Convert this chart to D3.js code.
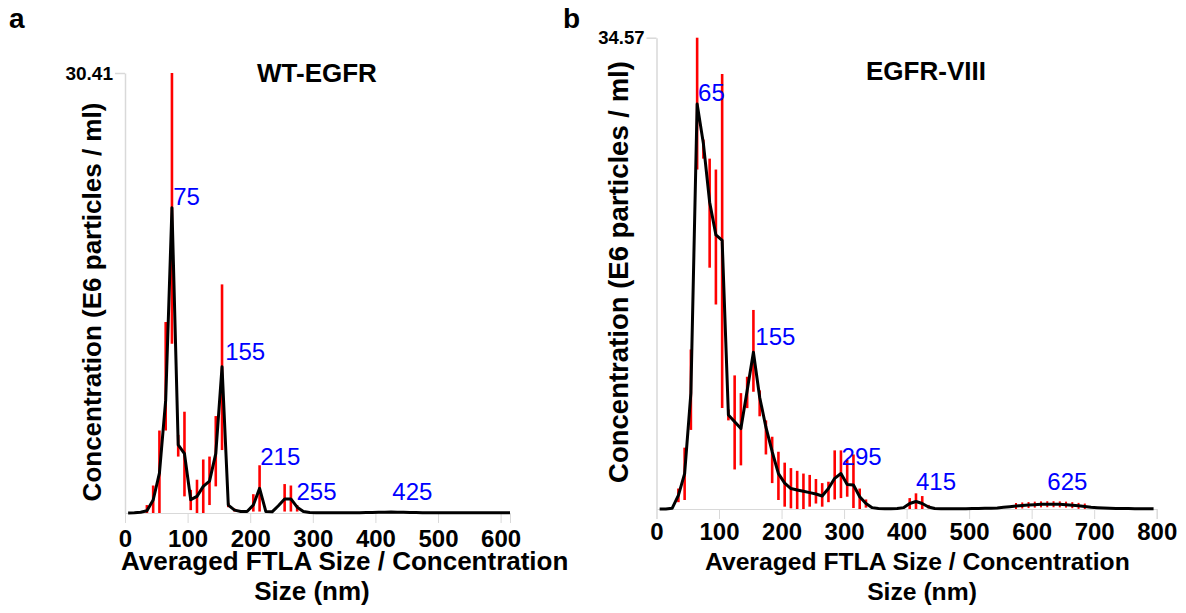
<!DOCTYPE html>
<html>
<head>
<meta charset="utf-8">
<script src="https://cdn.jsdelivr.net/npm/d3@7"></script>
<style>
  body { margin: 0; background: #fff; }
  text { font-family: "Liberation Sans", Arial, sans-serif; }
</style>
</head>
<body>
<script>
// WT-EGFR: averaged size distribution (bins every 10 nm, 5..615)
var wtMean = [0, 0.02, 0.05, 0.15, 0.9, 2.75, 7.8, 21.1, 4.7, 4.1,
  0.92, 1.15, 1.84, 2.2, 4.1, 10.1, 0.55, 0.2, 0.1, 0.1,
  0.55, 1.7, 0.1, 0.08, 0.5, 0.97, 0.97, 0.4, 0.1, 0.03,
  0.02, 0.02, 0.02, 0.02, 0.02, 0.02, 0.02, 0.02, 0.03, 0.04,
  0.05, 0.06, 0.07, 0.06, 0.05, 0.04, 0.03, 0.02, 0.02, 0.02,
  0.02, 0.02, 0.02, 0.02, 0.02, 0.02, 0.02, 0.02, 0.02, 0.02,
  0.02, 0.02];
// red error bars (size, low, high)
var wtBarSize = [35, 45, 55, 65, 75, 85, 95, 105, 115, 125, 135, 145, 155, 165, 175, 185, 205, 215, 255, 265, 275];
var wtBarLow  = [0, 0, 0, 5.7, 11.7, 3.9, 1.15, 0.2, 0, 0, 0.55, 1.84, 4.35, 0.4, 0.1, 0.05, 0.1, 0.1, 0.1, 0.1, 0.1];
var wtBarHigh = [0.55, 1.9, 5.7, 13.2, 30.41, 5.4, 7.0, 1.6, 2.3, 3.7, 3.9, 6.7, 15.8, 0.7, 0.3, 0.2, 1.3, 3.3, 2.0, 1.9, 0.55];
var wtPeaks = ["75", "155", "215", "255", "425"];
var wtPeakX = [77, 160, 216, 274, 427];
var wtPeakY = [21.3, 10.6, 3.3, 0.9, 0.9];
var wtTicks = [0, 100, 200, 300, 400, 500, 600];

// EGFR-VIII (bins every 10 nm, 5..795)
var vMean = [0, 0, 0.05, 1.0, 2.6, 8.5, 29.7, 26.8, 22.5, 20.1,
  19.7, 6.9, 6.4, 5.9, 8.7, 11.5, 8.2, 6.0, 4.2, 2.6,
  1.9, 1.5, 1.4, 1.3, 1.2, 1.1, 0.95, 1.5, 2.25, 2.6,
  1.8, 1.76, 0.9, 0.4, 0.1, 0.03, 0.02, 0.02, 0.03, 0.1,
  0.4, 0.55, 0.4, 0.15, 0.04, 0.02, 0.02, 0.02, 0.02, 0.02,
  0.03, 0.04, 0.05, 0.06, 0.08, 0.12, 0.17, 0.22, 0.26, 0.29,
  0.32, 0.34, 0.35, 0.35, 0.34, 0.32, 0.28, 0.23, 0.18, 0.13,
  0.1, 0.07, 0.05, 0.04, 0.03, 0.03, 0.02, 0.02, 0.02, 0.02];
var vBarSize = [35, 45, 55, 65, 75, 85, 95, 105, 115, 125, 135, 145, 155, 165, 175, 185, 195, 205, 215, 225,
  235, 245, 255, 265, 275, 285, 295, 305, 315, 325, 335, 405, 415, 425, 435,
  575, 585, 595, 605, 615, 625, 635, 645, 655, 665, 675, 685];
var vBarLow  = [0.5, 0.66, 5.8, 24.9, 25.7, 17.7, 15.0, 7.4, 6.5, 2.9, 3.2, 7.4, 8.6, 6.8, 4.0, 1.9, 0.66, 0.17, 0.05, 0,
  0, 0.17, 0.4, 0.17, 0.5, 0.7, 0.8, 0.9, 0.07, 0, 0.1, 0, 0, 0, 0.05,
  0, 0.04, 0.07, 0.1, 0.12, 0.13, 0.13, 0.12, 0.1, 0.06, 0.01, 0];
var vBarHigh = [1.5, 4.5, 11.7, 34.57, 27.1, 25.7, 24.9, 31.9, 7.3, 9.8, 8.5, 9.7, 14.6, 8.7, 6.5, 5.3, 4.2, 3.4, 3.0, 2.8,
  2.6, 2.5, 2.2, 1.9, 2.0, 4.3, 4.3, 3.6, 4.0, 1.5, 0.7, 0.8, 1.15, 0.95, 0.3,
  0.44, 0.48, 0.51, 0.54, 0.56, 0.57, 0.57, 0.56, 0.54, 0.5, 0.45, 0.4];
var vPeaks = ["65", "155", "295", "415", "625"];
var vPeakX = [66.5, 158, 296, 415, 625];
var vPeakY = [29.96, 12.0, 3.23, 1.39, 1.39];
var vTicks = [0, 100, 200, 300, 400, 500, 600, 700, 800];

var svg = d3.select("body")
  .append("svg")
  .attr("width", 1186)
  .attr("height", 613);

function drawPanel(p) {
  var x = d3.scaleLinear().domain([0, p.xMax]).range([p.x0, p.x1]);
  var y = d3.scaleLinear().domain([0, p.yMax]).range([p.y0, p.y1]);
  var g = svg.append("g");

  // x axis (light grey ticks)
  var xa = g.append("g")
    .attr("transform", "translate(0," + p.y0 + ")")
    .call(d3.axisBottom(x).tickValues(p.ticks).tickSize(10).tickFormat(d3.format("d")));
  xa.selectAll("path, line").attr("stroke", "#d9d9d9");
  xa.selectAll("text")
    .attr("dy", null)
    .attr("y", p.tickY)
    .attr("fill", "#000")
    .attr("font-size", "24px")
    .attr("font-weight", "bold")
    .attr("font-family", "Liberation Sans, Arial, sans-serif");

  // y axis, only the max tick
  var ya = g.append("g")
    .attr("transform", "translate(" + p.x0 + ",0)")
    .call(d3.axisLeft(y).tickValues([p.yMax]).tickSize(10).tickPadding(2).tickSizeOuter(0)
      .tickFormat(function(d) { return d.toFixed(2); }));
  ya.selectAll("path, line").attr("stroke", "#d9d9d9").attr("stroke-width", 1.5);
  ya.selectAll("text")
    .attr("fill", "#000")
    .attr("font-size", p.yTickSize + "px")
    .attr("font-weight", "bold")
    .attr("font-family", "Liberation Sans, Arial, sans-serif");

  // red error bars
  g.selectAll("line.err")
    .data(p.barSize)
    .enter()
    .append("line")
    .attr("class", "err")
    .attr("x1", function(d) { return x(d); })
    .attr("x2", function(d) { return x(d); })
    .attr("y1", function(d, i) { return y(p.barLow[i]); })
    .attr("y2", function(d, i) { return y(p.barHigh[i]); })
    .attr("stroke", "#ff0000")
    .attr("stroke-width", function(d) { return d > 500 ? 2 : 2.6; });

  // mean curve
  var sizes = d3.range(5, p.xMax + 1, 10);
  var line = d3.line()
    .x(function(d, i) { return x(sizes[i]); })
    .y(function(d) { return y(d); });
  g.append("path")
    .datum(p.mean)
    .attr("d", line)
    .attr("fill", "none")
    .attr("stroke", "#000")
    .attr("stroke-width", 3)
    .attr("stroke-linejoin", "round");

  // peak labels
  g.selectAll("text.peak")
    .data(p.peaks)
    .enter()
    .append("text")
    .attr("class", "peak")
    .text(function(d) { return d; })
    .attr("x", function(d, i) { return x(p.peakX[i]); })
    .attr("y", function(d, i) { return y(p.peakY[i]); })
    .attr("fill", "#0000ff")
    .attr("font-size", "24px");

  // titles
  g.append("text")
    .text(p.title)
    .attr("x", p.titleX)
    .attr("y", p.titleY)
    .attr("font-size", "26px")
    .attr("font-weight", "bold");
  g.append("text")
    .text(p.letter)
    .attr("x", p.letterX)
    .attr("y", 28)
    .attr("font-size", "28px")
    .attr("font-weight", "bold");

  g.append("text")
    .text("Concentration (E6 particles / ml)")
    .attr("transform", "translate(" + p.yLabX + "," + p.yLabY + ") rotate(-90)")
    .attr("text-anchor", "middle")
    .attr("font-size", p.yLabSize + "px")
    .attr("font-weight", "bold");

  g.append("text")
    .text("Averaged FTLA Size / Concentration")
    .attr("x", p.xLabX)
    .attr("y", p.xLabY)
    .attr("font-size", p.xLabSize + "px")
    .attr("font-weight", "bold");
  g.append("text")
    .text("Size (nm)")
    .attr("x", p.sizeX)
    .attr("y", p.xLabY + 30)
    .attr("text-anchor", "middle")
    .attr("font-size", p.xLabSize + "px")
    .attr("font-weight", "bold");
}

drawPanel({
  mean: wtMean, barSize: wtBarSize, barLow: wtBarLow, barHigh: wtBarHigh,
  peaks: wtPeaks, peakX: wtPeakX, peakY: wtPeakY, ticks: wtTicks,
  xMax: 615, yMax: 30.41,
  x0: 125, x1: 510, y0: 513, y1: 73, tickY: 34, yTickSize: 19,
  title: "WT-EGFR", titleX: 257, titleY: 82, letter: "a", letterX: 9,
  yLabX: 101, yLabY: 302, yLabSize: 26,
  xLabX: 121, xLabY: 570, xLabSize: 26, sizeX: 312
});

drawPanel({
  mean: vMean, barSize: vBarSize, barLow: vBarLow, barHigh: vBarHigh,
  peaks: vPeaks, peakX: vPeakX, peakY: vPeakY, ticks: vTicks,
  xMax: 800, yMax: 34.57,
  x0: 656.5, x1: 1156.7, y0: 509, y1: 37.7, tickY: 31, yTickSize: 18.5,
  title: "EGFR-VIII", titleX: 866, titleY: 80, letter: "b", letterX: 563,
  yLabX: 628, yLabY: 272, yLabSize: 27.5,
  xLabX: 705, xLabY: 570, xLabSize: 24.7, sizeX: 922
});
</script>
</body>
</html>
